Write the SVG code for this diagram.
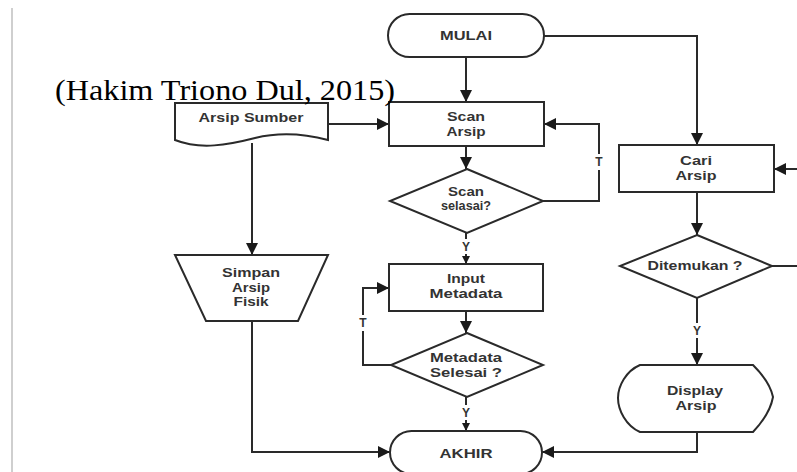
<svg xmlns="http://www.w3.org/2000/svg" width="797" height="472" viewBox="0 0 797 472">
<style>
.s{fill:#fff;stroke:#2a2a2a;stroke-width:2}
.c{fill:none;stroke:#2a2a2a;stroke-width:2}
.t{font-family:"Liberation Sans",Arial,sans-serif;font-size:13px;font-weight:bold;fill:#333;text-anchor:middle}
.l{font-family:"Liberation Sans",Arial,sans-serif;font-size:12px;font-weight:bold;fill:#333;text-anchor:middle}
.cite{font-family:"Liberation Serif","Times New Roman",serif;font-size:30px;fill:#000}
</style>
<defs>
<marker id="a" viewBox="0 0 12 12" refX="12" refY="6" markerWidth="12" markerHeight="12" markerUnits="userSpaceOnUse" orient="auto">
<path d="M0,0 L12,6 L0,12 Z" fill="#1a1a1a"/>
</marker>
<marker id="as" viewBox="0 0 12 12" refX="12" refY="6" markerWidth="8" markerHeight="8" markerUnits="userSpaceOnUse" orient="auto">
<path d="M0,0 L12,6 L0,12 Z" fill="#1a1a1a"/>
</marker>
</defs>
<rect width="797" height="472" fill="#fff"/>
<line x1="12" y1="8" x2="12" y2="472" stroke="#cfcfcf" stroke-width="2"/>

<g id="connectors">
<path class="c" d="M466,57 V102" marker-end="url(#a)"/>
<path class="c" d="M328,124 H389" marker-end="url(#a)"/>
<path class="c" d="M466,146 V169" marker-end="url(#a)"/>
<path class="c" d="M543,201 H599 V124 H544" marker-end="url(#a)"/>
<path class="c" d="M466,233 V264" marker-end="url(#as)"/>
<path class="c" d="M466,311 V333" marker-end="url(#a)"/>
<path class="c" d="M391,365 H363 V288 H389" marker-end="url(#a)"/>
<path class="c" d="M466,397 V431" marker-end="url(#as)"/>
<path class="c" d="M252,143 V255" marker-end="url(#a)"/>
<path class="c" d="M252,321 V452 H390" marker-end="url(#a)"/>
<path class="c" d="M544,36 H697 V145" marker-end="url(#a)"/>
<path class="c" d="M797,169 H774" marker-end="url(#a)"/>
<path class="c" d="M697,192 V235" marker-end="url(#a)"/>
<path class="c" d="M772,266 H797"/>
<path class="c" d="M697,298 V365" marker-end="url(#a)"/>
<path class="c" d="M697,432 V452 H542" marker-end="url(#a)"/>
<rect x="593" y="154" width="12" height="16" fill="#fff"/>
<text class="l" x="599" y="166">T</text>
<rect x="460" y="239" width="12" height="15" fill="#fff"/>
<text class="l" x="466" y="251">Y</text>
<rect x="357" y="315" width="12" height="16" fill="#fff"/>
<text class="l" x="363" y="327">T</text>
<rect x="460" y="405" width="12" height="15" fill="#fff"/>
<text class="l" x="466" y="417">Y</text>
<rect x="691" y="323" width="12" height="15" fill="#fff"/>
<text class="l" x="697" y="335">Y</text>
</g>

<g id="mulai">
<rect class="s" x="388" y="14" width="156" height="43" rx="21.5"/>
<text class="t" x="466" y="40" textLength="52" lengthAdjust="spacingAndGlyphs">MULAI</text>
</g>
<g id="scan-arsip">
<rect class="s" x="389" y="102" width="155" height="44"/>
<text class="t" x="466" y="121" textLength="38" lengthAdjust="spacingAndGlyphs">Scan</text>
<text class="t" x="466" y="136" textLength="39" lengthAdjust="spacingAndGlyphs">Arsip</text>
</g>
<g id="arsip-sumber">
<path class="s" d="M175,103 H328 V140 C305,134 280,132 255,138 C228,145 200,150 175,140 Z"/>
<text class="t" x="251" y="122" textLength="105" lengthAdjust="spacingAndGlyphs">Arsip Sumber</text>
</g>
<g id="scan-selesai">
<path class="s" d="M467,169 L543,201 L467,233 L390,201 Z"/>
<text class="t" x="466" y="196" textLength="36" lengthAdjust="spacingAndGlyphs">Scan</text>
<text class="t" x="466" y="210" textLength="50" lengthAdjust="spacingAndGlyphs">selasai?</text>
</g>
<g id="simpan">
<path class="s" d="M175,255 H328 L298,321 H206 Z"/>
<text class="t" x="251" y="277" textLength="58" lengthAdjust="spacingAndGlyphs">Simpan</text>
<text class="t" x="251" y="292" textLength="38" lengthAdjust="spacingAndGlyphs">Arsip</text>
<text class="t" x="251" y="306" textLength="35" lengthAdjust="spacingAndGlyphs">Fisik</text>
</g>
<g id="input-metadata">
<rect class="s" x="389" y="264" width="154" height="47"/>
<text class="t" x="466" y="283" textLength="38" lengthAdjust="spacingAndGlyphs">Input</text>
<text class="t" x="466" y="298" textLength="73" lengthAdjust="spacingAndGlyphs">Metadata</text>
</g>
<g id="metadata-selesai">
<path class="s" d="M467,333 L543,365 L467,397 L391,365 Z"/>
<text class="t" x="466" y="362" textLength="72" lengthAdjust="spacingAndGlyphs">Metadata</text>
<text class="t" x="466" y="377" textLength="72" lengthAdjust="spacingAndGlyphs">Selesai ?</text>
</g>
<g id="akhir">
<rect class="s" x="390" y="431" width="152" height="43" rx="21.5"/>
<text class="t" x="466" y="458" textLength="53" lengthAdjust="spacingAndGlyphs">AKHIR</text>
</g>
<g id="cari-arsip">
<rect class="s" x="619" y="145" width="155" height="47"/>
<text class="t" x="696" y="165" textLength="32" lengthAdjust="spacingAndGlyphs">Cari</text>
<text class="t" x="696" y="180" textLength="41" lengthAdjust="spacingAndGlyphs">Arsip</text>
</g>
<g id="ditemukan">
<path class="s" d="M697,235 L772,266 L697,298 L620,266 Z"/>
<text class="t" x="695" y="270" textLength="95" lengthAdjust="spacingAndGlyphs">Ditemukan ?</text>
</g>
<g id="display-arsip">
<path class="s" d="M640,365 H753 Q770,382 773,397 Q770,414 753,432 H640 C626,426 618,410 618,398 C618,386 626,371 640,365 Z"/>
<text class="t" x="695" y="395" textLength="56" lengthAdjust="spacingAndGlyphs">Display</text>
<text class="t" x="696" y="410" textLength="41" lengthAdjust="spacingAndGlyphs">Arsip</text>
</g>

<text class="cite" x="55" y="100" textLength="340" lengthAdjust="spacingAndGlyphs">(Hakim Triono Dul, 2015)</text>
</svg>
